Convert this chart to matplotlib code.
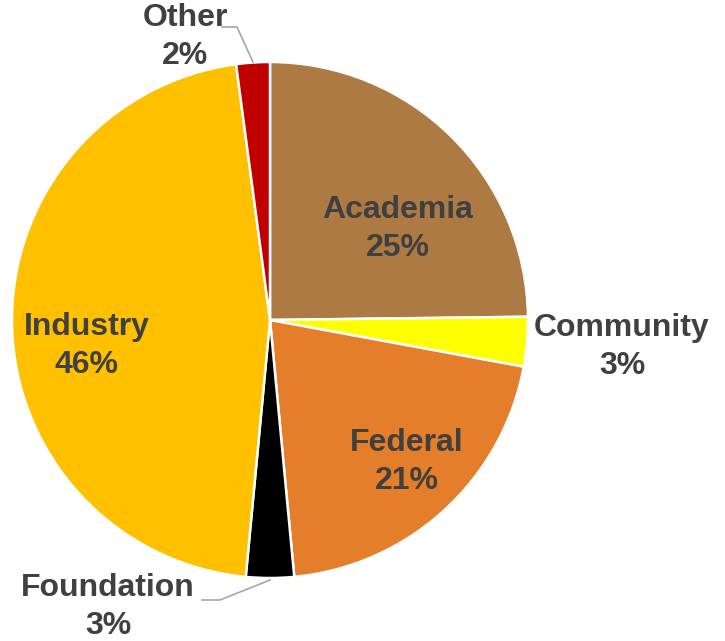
import matplotlib
matplotlib.use('Agg')
import matplotlib.pyplot as plt

# datos del grafico
categorias = ['Academia', 'Community', 'Federal', 'Foundation', 'Industry', 'Other']
valores = [24.8, 3.1, 20.6, 3.0, 46.4, 2.1]
colores = ['#AE7A43', '#FFFF00', '#E47E2A', '#000000', '#FFC000', '#C00000']

plt.rcParams['font.family'] = ['Liberation Sans', 'DejaVu Sans']

fig = plt.figure(figsize=(7.25, 6.41), dpi=100)
ax = fig.add_axes([0, 0, 1, 1])

cx, cy, r = 270, 321, 258
wedges, _ = ax.pie(valores, colors=colores, startangle=90, counterclock=False,
                   center=(cx, cy), radius=r, frame=True,
                   wedgeprops=dict(edgecolor='white', linewidth=1.8))
ax.set_xlim(0, 725)
ax.set_ylim(0, 641)
ax.axis('off')

# posiciones de las etiquetas (pixeles, y desde arriba)
pos_etiquetas = [(398, 229), (622, 347), (407, 462), (108, 607), (87, 346), (185, 37)]
for cat, val, (x, y) in zip(categorias, valores, pos_etiquetas):
    ax.text(x, 641 - y, '%s\n%d%%' % (cat, round(val)), ha='center', va='center',
            fontsize=23, fontweight='bold', color='#404040', linespacing=1.33)

# lineas guia
gris = '#A6A6A6'
ax.plot([222, 237, 253], [641 - 27, 641 - 27, 641 - 62], color=gris, lw=1.2)
ax.plot([202, 220, 270], [641 - 600, 641 - 600, 641 - 580], color=gris, lw=1.2)

plt.savefig('out.png', dpi=100)
plt.close()
